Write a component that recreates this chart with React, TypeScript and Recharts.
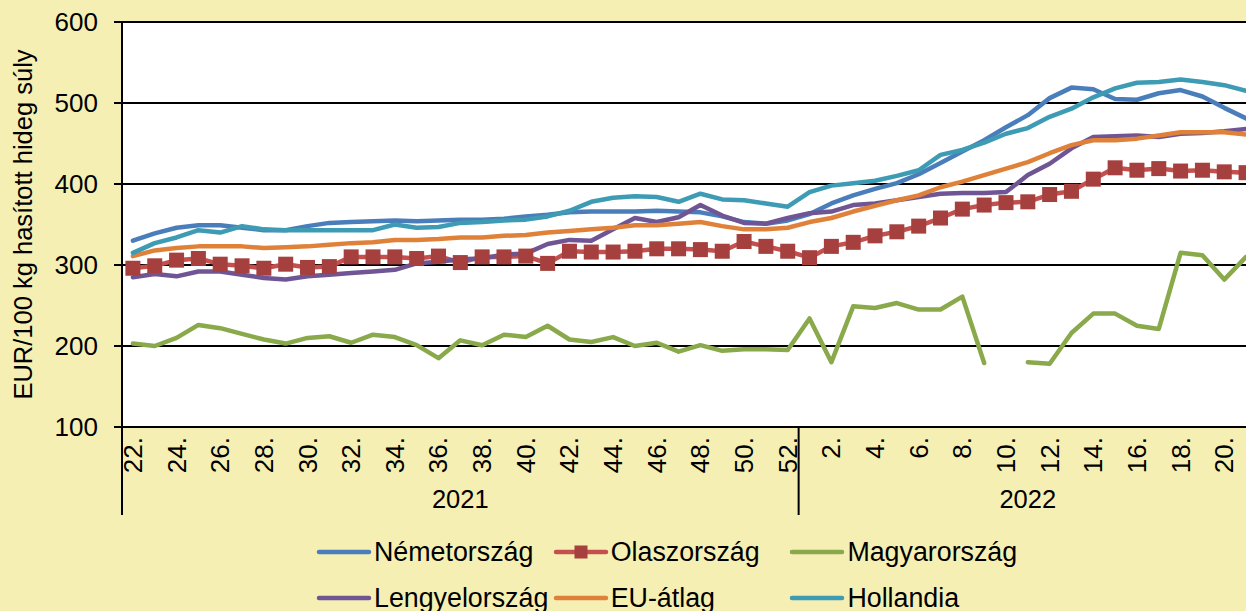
import React from 'react';
import { LineChart, Line, XAxis, YAxis, CartesianGrid, Legend } from 'recharts';

// ---- categories ----
const weekLabels = [
  '22.', '23.', '24.', '25.', '26.', '27.', '28.', '29.', '30.', '31.', '32.', '33.', '34.', '35.', '36.', '37.',
  '38.', '39.', '40.', '41.', '42.', '43.', '44.', '45.', '46.', '47.', '48.', '49.', '50.', '51.', '52.',
  '1.', '2.', '3.', '4.', '5.', '6.', '7.', '8.', '9.', '10.', '11.', '12.', '13.', '14.', '15.', '16.', '17.',
  '18.', '19.', '20.', '21.',
];
const yearLabels = ['2021', '2022'];
const yearStarts = [0, 31];
const yearEnds = [30, 51];
const yTicks = [100, 200, 300, 400, 500, 600];

// ---- series values (EUR/100 kg) ----
const nemetorszag = [
  330, 339, 346, 349, 349, 346, 343, 343, 348, 352, 353, 354, 355, 354, 355, 356, 356, 357, 360, 362, 365,
  366, 366, 366, 367, 366, 365, 360, 353, 351, 355, 363, 376, 386, 394, 401, 412, 426, 440, 454, 470, 485,
  506, 519, 517, 505, 504, 512, 516, 508, 494, 481,
];
const olaszorszag = [
  296, 299, 306, 308, 301, 299, 296, 301, 297, 298, 310, 310, 310, 308, 311, 303, 310, 310, 311, 302, 317,
  316, 316, 317, 320, 320, 319, 317, 329, 323, 317, 309, 323, 328, 336, 341, 348, 358, 369, 374, 377, 378,
  387, 391, 406, 420, 417, 419, 416, 417, 415, 414,
];
const magyarorszag: (number | null)[] = [
  203, 200, 210, 226, 222, 215, 208, 203, 210, 212, 204, 214, 211, 201, 185, 207, 201, 214, 211, 225, 208,
  205, 211, 200, 204, 193, 201, 194, 196, 196, 195, 234, 180, 249, 247, 253, 245, 245, 261, 179, null, 180,
  178, 216, 240, 240, 225, 221, 315, 312, 282, 310,
];
const lengyelorszag = [
  285, 289, 286, 292, 292, 288, 284, 282, 286, 288, 290, 292, 294, 302, 304, 307, 308, 313, 314, 326, 331,
  330, 344, 358, 353, 359, 374, 361, 352, 351, 358, 364, 366, 374, 376, 380, 384, 388, 389, 389, 390, 411,
  425, 444, 458, 459, 460, 458, 462, 463, 465, 468,
];
const euAtlag = [
  311, 318, 321, 323, 323, 323, 321, 322, 323, 325, 327, 328, 331, 331, 332, 334, 334, 336, 337, 340, 342,
  344, 346, 349, 349, 351, 353, 348, 344, 344, 346, 353, 358, 366, 373, 380, 386, 396, 403, 411, 419, 427,
  438, 448, 454, 454, 456, 460, 464, 464, 464, 461,
];
const hollandia = [
  315, 327, 334, 343, 340, 348, 344, 343, 343, 343, 343, 343, 350, 346, 347, 352, 353, 355, 356, 360, 367,
  378, 383, 385, 384, 378, 388, 381, 380, 376, 372, 390, 398, 401, 404, 410, 417, 436, 442, 451, 462, 469,
  483, 493, 507, 518, 525, 526, 529, 526, 522, 515,
];

const seriesDefs = [
  { key: 'de', name: 'Németország', color: '#4A7EBB', values: nemetorszag, marker: false },
  { key: 'it', name: 'Olaszország', color: '#C4504E', values: olaszorszag, marker: true },
  { key: 'hu', name: 'Magyarország', color: '#89A94B', values: magyarorszag, marker: false },
  { key: 'pl', name: 'Lengyelország', color: '#6F5594', values: lengyelorszag, marker: false },
  { key: 'eu', name: 'EU-átlag', color: '#E0813A', values: euAtlag, marker: false },
  { key: 'nl', name: 'Hollandia', color: '#3E9BB4', values: hollandia, marker: false },
];
const markerColor = '#A5403F';

const data = weekLabels.map((w, i) => {
  const row: Record<string, number | string | null> = { idx: i, week: w };
  seriesDefs.forEach((s) => {
    row[s.key] = s.values[i];
  });
  return row;
});

// ---- layout constants ----
const CHART_W = 1261;
const CHART_H = 611;
const WEEK_AXIS_H = 60;
const YEAR_AXIS_H = 100;
const FONT = '"Liberation Sans", Arial, sans-serif';
const BG = '#F5EFB3';

const weekTicks = weekLabels
  .map((w, i) => (parseInt(w, 10) % 2 === 0 ? i : -1))
  .filter((i) => i >= 0);
const yearTicks: number[] = [];
yearLabels.forEach((_, g) => {
  yearTicks.push(yearStarts[g] - 0.5);
  yearTicks.push((yearStarts[g] + yearEnds[g]) / 2);
});
const domainX: [number, number] = [-0.5, weekLabels.length - 0.5];

const WeekTick = (props: any) => {
  const { x, y, payload } = props;
  return (
    <text
      x={x}
      y={y}
      transform={`rotate(-90 ${x} ${y})`}
      textAnchor="end"
      dominantBaseline="central"
      fontSize={26}
      fill="#000"
      fontFamily={FONT}
    >
      {weekLabels[payload.value]}
    </text>
  );
};

const YearTick = (props: any) => {
  const { x, y, payload } = props;
  const g = yearLabels.findIndex((_, k) => (yearStarts[k] + yearEnds[k]) / 2 === payload.value);
  if (g >= 0) {
    return (
      <text x={x} y={y + 12} textAnchor="middle" dominantBaseline="central" fontSize={25.5} fill="#000" fontFamily={FONT}>
        {yearLabels[g]}
      </text>
    );
  }
  return <line x1={x} x2={x} y1={y - WEEK_AXIS_H} y2={y + 28} stroke="#000" strokeWidth={2} />;
};

const YTitle = (props: any) => {
  const vb = props.viewBox || { x: 0, y: 22, width: 122, height: 405 };
  const cx = vb.x + 23;
  const cy = vb.y + vb.height / 2;
  return (
    <text
      x={cx}
      y={cy}
      transform={`rotate(-90 ${cx} ${cy})`}
      textAnchor="middle"
      dominantBaseline="central"
      fontSize={25.5}
      fill="#000"
      fontFamily={FONT}
    >
      EUR/100 kg hasított hideg súly
    </text>
  );
};

const LegendContent = () => (
  <div style={{ position: 'relative', width: 1246, height: 92, fontFamily: FONT }}>
    {seriesDefs.map((s, k) => {
      const col = k % 3;
      const row = Math.floor(k / 3);
      return (
        <div
          key={s.key}
          style={{
            position: 'absolute',
            left: 315 + col * 236.7,
            top: row * 46,
            height: 46,
            display: 'flex',
            alignItems: 'center',
            whiteSpace: 'nowrap',
          }}
        >
          <svg width={58} height={20} style={{ display: 'block' }}>
            <line x1={4} x2={54} y1={10} y2={10} stroke={s.color} strokeWidth={4.5} strokeLinecap="round" />
            {s.marker && <rect x={22.5} y={3.5} width={13} height={13} fill={markerColor} />}
          </svg>
          <span style={{ fontSize: 26.8, color: '#000', marginLeft: 1 }}>{s.name}</span>
        </div>
      );
    })}
  </div>
);

const SquareDot = (props: any) => {
  const { cx, cy, index } = props;
  if (cx == null || cy == null) return <g key={`d${index}`} />;
  return <rect key={`d${index}`} x={cx - 7.5} y={cy - 7.5} width={15} height={15} fill={markerColor} />;
};

export default function App() {
  return (
    <div
      style={{
        position: 'fixed',
        left: 0,
        top: 0,
        width: 1246,
        height: 611,
        overflow: 'hidden',
        background: BG,
        fontFamily: FONT,
      }}
    >
      <LineChart
        width={CHART_W}
        height={CHART_H}
        data={data}
        margin={{ top: 22, right: 4, bottom: 24, left: 0 }}
      >
        <CartesianGrid horizontal vertical={false} fill="#FFFFFF" stroke="#000" strokeWidth={2} />
        <XAxis
          xAxisId={0}
          dataKey="idx"
          type="number"
          domain={domainX}
          ticks={weekTicks}
          interval={0}
          height={WEEK_AXIS_H}
          tickSize={0}
          tickMargin={10}
          tickLine={false}
          axisLine={{ stroke: '#000', strokeWidth: 2 }}
          tick={<WeekTick />}
        />
        <XAxis
          xAxisId="year"
          dataKey="idx"
          type="number"
          domain={domainX}
          ticks={yearTicks}
          interval={0}
          height={YEAR_AXIS_H}
          tickSize={0}
          tickMargin={0}
          tickLine={false}
          axisLine={false}
          tick={<YearTick />}
        />
        <YAxis
          type="number"
          domain={[100, 600]}
          ticks={yTicks}
          interval={0}
          width={122}
          tickSize={8}
          tickMargin={16}
          axisLine={{ stroke: '#000', strokeWidth: 2 }}
          tickLine={{ stroke: '#000', strokeWidth: 2 }}
          tick={{ fontSize: 26, fill: '#000', fontFamily: FONT }}
          label={<YTitle />}
        />
        <Legend
          layout="horizontal"
          verticalAlign="middle"
          align="center"
          wrapperStyle={{ left: 0, top: 529, width: 1246, height: 92 }}
          content={() => <LegendContent />}
        />
        {seriesDefs.map((s) => (
          <Line
            key={s.key}
            xAxisId={0}
            dataKey={s.key}
            name={s.name}
            type="linear"
            stroke={s.color}
            strokeWidth={4.5}
            strokeLinejoin="round"
            strokeLinecap="round"
            dot={s.marker ? <SquareDot /> : false}
            activeDot={false}
            isAnimationActive={false}
            connectNulls={false}
          />
        ))}
      </LineChart>
    </div>
  );
}
